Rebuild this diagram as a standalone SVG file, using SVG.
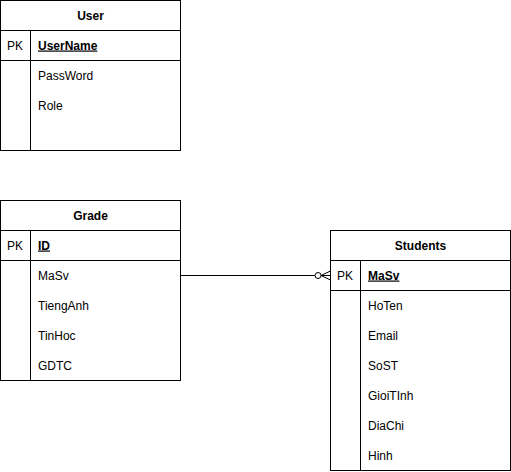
<svg xmlns="http://www.w3.org/2000/svg" width="511" height="472" viewBox="0 0 511 472">
  <style>
    .box { fill: #ffffff; stroke: #000000; stroke-width: 1; }
    .sep { stroke: #000000; stroke-width: 1; fill: none; }
    .title { font-family: "Liberation Sans", Arial, sans-serif; font-size: 12px; font-weight: bold; fill: #000000; text-anchor: middle; }
    .pk { font-family: "Liberation Sans", Arial, sans-serif; font-size: 12px; fill: #000000; }
    .key { font-family: "Liberation Sans", Arial, sans-serif; font-size: 12px; font-weight: bold; fill: #000000; text-decoration: underline; }
    .attr { font-family: "Liberation Sans", Arial, sans-serif; font-size: 12px; fill: #000000; }
    .edge { stroke: #000000; stroke-width: 1; fill: none; }
  </style>
  <rect width="511" height="472" fill="#ffffff"/>

  <!-- User table -->
  <g id="user">
    <rect class="box" x="0.5" y="0.5" width="180" height="150"/>
    <line class="sep" x1="0.5" y1="30.5" x2="180.5" y2="30.5"/>
    <line class="sep" x1="0.5" y1="60.5" x2="180.5" y2="60.5"/>
    <line class="sep" x1="30.5" y1="30.5" x2="30.5" y2="150.5"/>
    <text class="title" x="90.5" y="19.5">User</text>
    <text class="pk" x="7" y="49.5">PK</text>
    <text class="key" x="38" y="49.5">UserName</text>
    <text class="attr" x="38" y="79.5">PassWord</text>
    <text class="attr" x="38" y="109.5">Role</text>
  </g>

  <!-- Grade table -->
  <g id="grade">
    <rect class="box" x="0.5" y="200.5" width="180" height="180"/>
    <line class="sep" x1="0.5" y1="230.5" x2="180.5" y2="230.5"/>
    <line class="sep" x1="0.5" y1="260.5" x2="180.5" y2="260.5"/>
    <line class="sep" x1="30.5" y1="230.5" x2="30.5" y2="380.5"/>
    <text class="title" x="90.5" y="219.5">Grade</text>
    <text class="pk" x="7" y="249.5">PK</text>
    <text class="key" x="38" y="249.5">ID</text>
    <text class="attr" x="38" y="279.5">MaSv</text>
    <text class="attr" x="38" y="309.5">TiengAnh</text>
    <text class="attr" x="38" y="339.5">TinHoc</text>
    <text class="attr" x="38" y="369.5">GDTC</text>
  </g>

  <!-- Students table -->
  <g id="students">
    <rect class="box" x="330.5" y="230.5" width="180" height="240"/>
    <line class="sep" x1="330.5" y1="260.5" x2="510.5" y2="260.5"/>
    <line class="sep" x1="330.5" y1="290.5" x2="510.5" y2="290.5"/>
    <line class="sep" x1="360.5" y1="260.5" x2="360.5" y2="470.5"/>
    <text class="title" x="420.5" y="249.5">Students</text>
    <text class="pk" x="337" y="279.5">PK</text>
    <text class="key" x="368" y="279.5">MaSv</text>
    <text class="attr" x="368" y="309.5">HoTen</text>
    <text class="attr" x="368" y="339.5">Email</text>
    <text class="attr" x="368" y="369.5">SoST</text>
    <text class="attr" x="368" y="399.5">GioiTInh</text>
    <text class="attr" x="368" y="429.5">DiaChi</text>
    <text class="attr" x="368" y="459.5">Hinh</text>
  </g>

  <!-- Relationship: Grade.MaSv to Students.MaSv (zero or many) -->
  <g id="connectors">
    <line class="edge" x1="180.5" y1="275.5" x2="315" y2="275.5"/>
    <circle class="edge" cx="318" cy="275.5" r="3"/>
    <path class="edge" d="M321 275.5 L330.5 271 M321 275.5 L330.5 280 M321 275.5 L330.5 275.5"/>
  </g>
</svg>
